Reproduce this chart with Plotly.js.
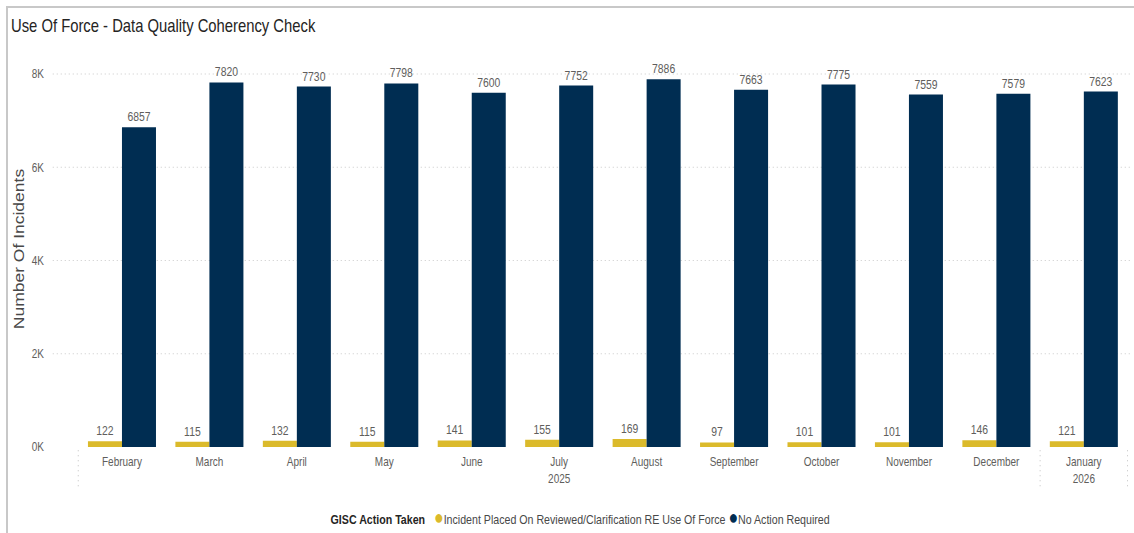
<!DOCTYPE html>
<html>
<head>
<meta charset="utf-8">
<script src="https://cdn.plot.ly/plotly-3.0.1.min.js"></script>
<style>
html,body{margin:0;padding:0;background:#fff;}
#wrap{position:relative;width:1134px;height:533px;overflow:hidden;}
#chart{position:absolute;left:0;top:0;width:1418px;height:533px;transform:scaleX(0.8);transform-origin:0 0;}
#frame{position:absolute;left:6px;top:6px;width:1140px;height:540px;border-left:2px solid #c8c8c8;border-top:2px solid #c8c8c8;pointer-events:none;}
</style>
</head>
<body>
<div id="wrap"><div id="chart"></div><div id="frame"></div></div>
<script>
const months = ["February","March","April","May","June","July","August","September","October","November","December","January"];
const tickLabels = ["February","March","April","May","June","July<br>2025","August","September","October","November","December","January<br>2026"];
const reviewed = [122,115,132,115,141,155,169,97,101,101,146,121];
const noAction = [6857,7820,7730,7798,7600,7752,7886,7663,7775,7559,7579,7623];
const seriesNames = ["Incident Placed On Reviewed/Clarification RE Use Of Force","No Action Required"];
const yTicks = [0,2000,4000,6000,8000];
const yTickText = ["0K","2K","4K","6K","8K"];
const legendTitle = "GISC Action Taken";
const yTitle = "Number Of Incidents";

const cYellow = "#DBBA2B", cNavy = "#002D52";
const font = "Liberation Sans, Arial, sans-serif";
const idx = months.map((m,i)=>i);

const W = 1418, ML = 66, MR = 2;
const plotW = W - ML - MR;

const traces = [
  {type:"bar", x:idx, y:reviewed, name:seriesNames[0], marker:{color:cYellow}, text:reviewed.map(String),
   textposition:"outside", cliponaxis:false, textfont:{family:font,size:13,color:"#605E5C"}, showlegend:false},
  {type:"bar", x:idx, y:noAction, name:seriesNames[1], marker:{color:cNavy}, text:noAction.map(String),
   textposition:"outside", cliponaxis:false, textfont:{family:font,size:13,color:"#605E5C"}, showlegend:false}
];

const dotted = {color:"#BDBDBD", width:1.2, dash:"1px,4px"};
const shapes = [-0.5,10.5,11.5].map(v=>({type:"line", xref:"x", yref:"paper", x0:v, x1:v, y0:-0.008, y1:-0.108, line:dotted}));

const legendText = "<b>" + legendTitle + "</b>   " +
  "<span style='color:" + cYellow + ";font-size:20px'>●</span><span style='color:#484848'>" + seriesNames[0] + "</span> " +
  "<span style='color:" + cNavy + ";font-size:20px'>●</span><span style='color:#484848'>" + seriesNames[1] + "</span>";

const layout = {
  width:W, height:533,
  margin:{l:ML, r:MR, t:50, b:86},
  paper_bgcolor:"rgba(0,0,0,0)", plot_bgcolor:"rgba(0,0,0,0)",
  title:{text:"Use Of Force - Data Quality Coherency Check", x:0.0097, xanchor:"left", y:0.953, yanchor:"middle",
         font:{family:font, size:18.5, color:"#252423"}},
  barmode:"group", bargap:0.222, bargroupgap:0,
  xaxis:{range:[-0.791,11.56], tickvals:idx, ticktext:tickLabels, showgrid:false, zeroline:false, showline:false,
         ticks:"", ticklabelstandoff:6, tickfont:{family:font,size:12.5,color:"#605E5C"}, fixedrange:true},
  yaxis:{range:[0,8515], tickvals:yTicks, ticktext:yTickText, showgrid:true, gridcolor:"#BDBDBD", griddash:"1px,4px", gridwidth:1.2,
         zeroline:false, showline:false, ticks:"", ticklabelstandoff:10,
         tickfont:{family:font,size:12.5,color:"#605E5C"}},
  annotations:[
    {text:yTitle, xref:"paper", yref:"paper", x:(23.75-ML)/plotW, y:0.5, xanchor:"center", yanchor:"middle",
     textangle:-90, showarrow:false, font:{family:font, size:17.5, color:"#484848"}},
    {text:legendText, xref:"paper", yref:"paper", x:(725-ML)/plotW, y:-0.176, xanchor:"center", yanchor:"middle",
     showarrow:false, font:{family:font, size:13.3, color:"#252423"}}
  ],
  shapes:shapes,
  showlegend:false
};

Plotly.newPlot("chart", traces, layout, {displayModeBar:false, staticPlot:true});
</script>
</body>
</html>
